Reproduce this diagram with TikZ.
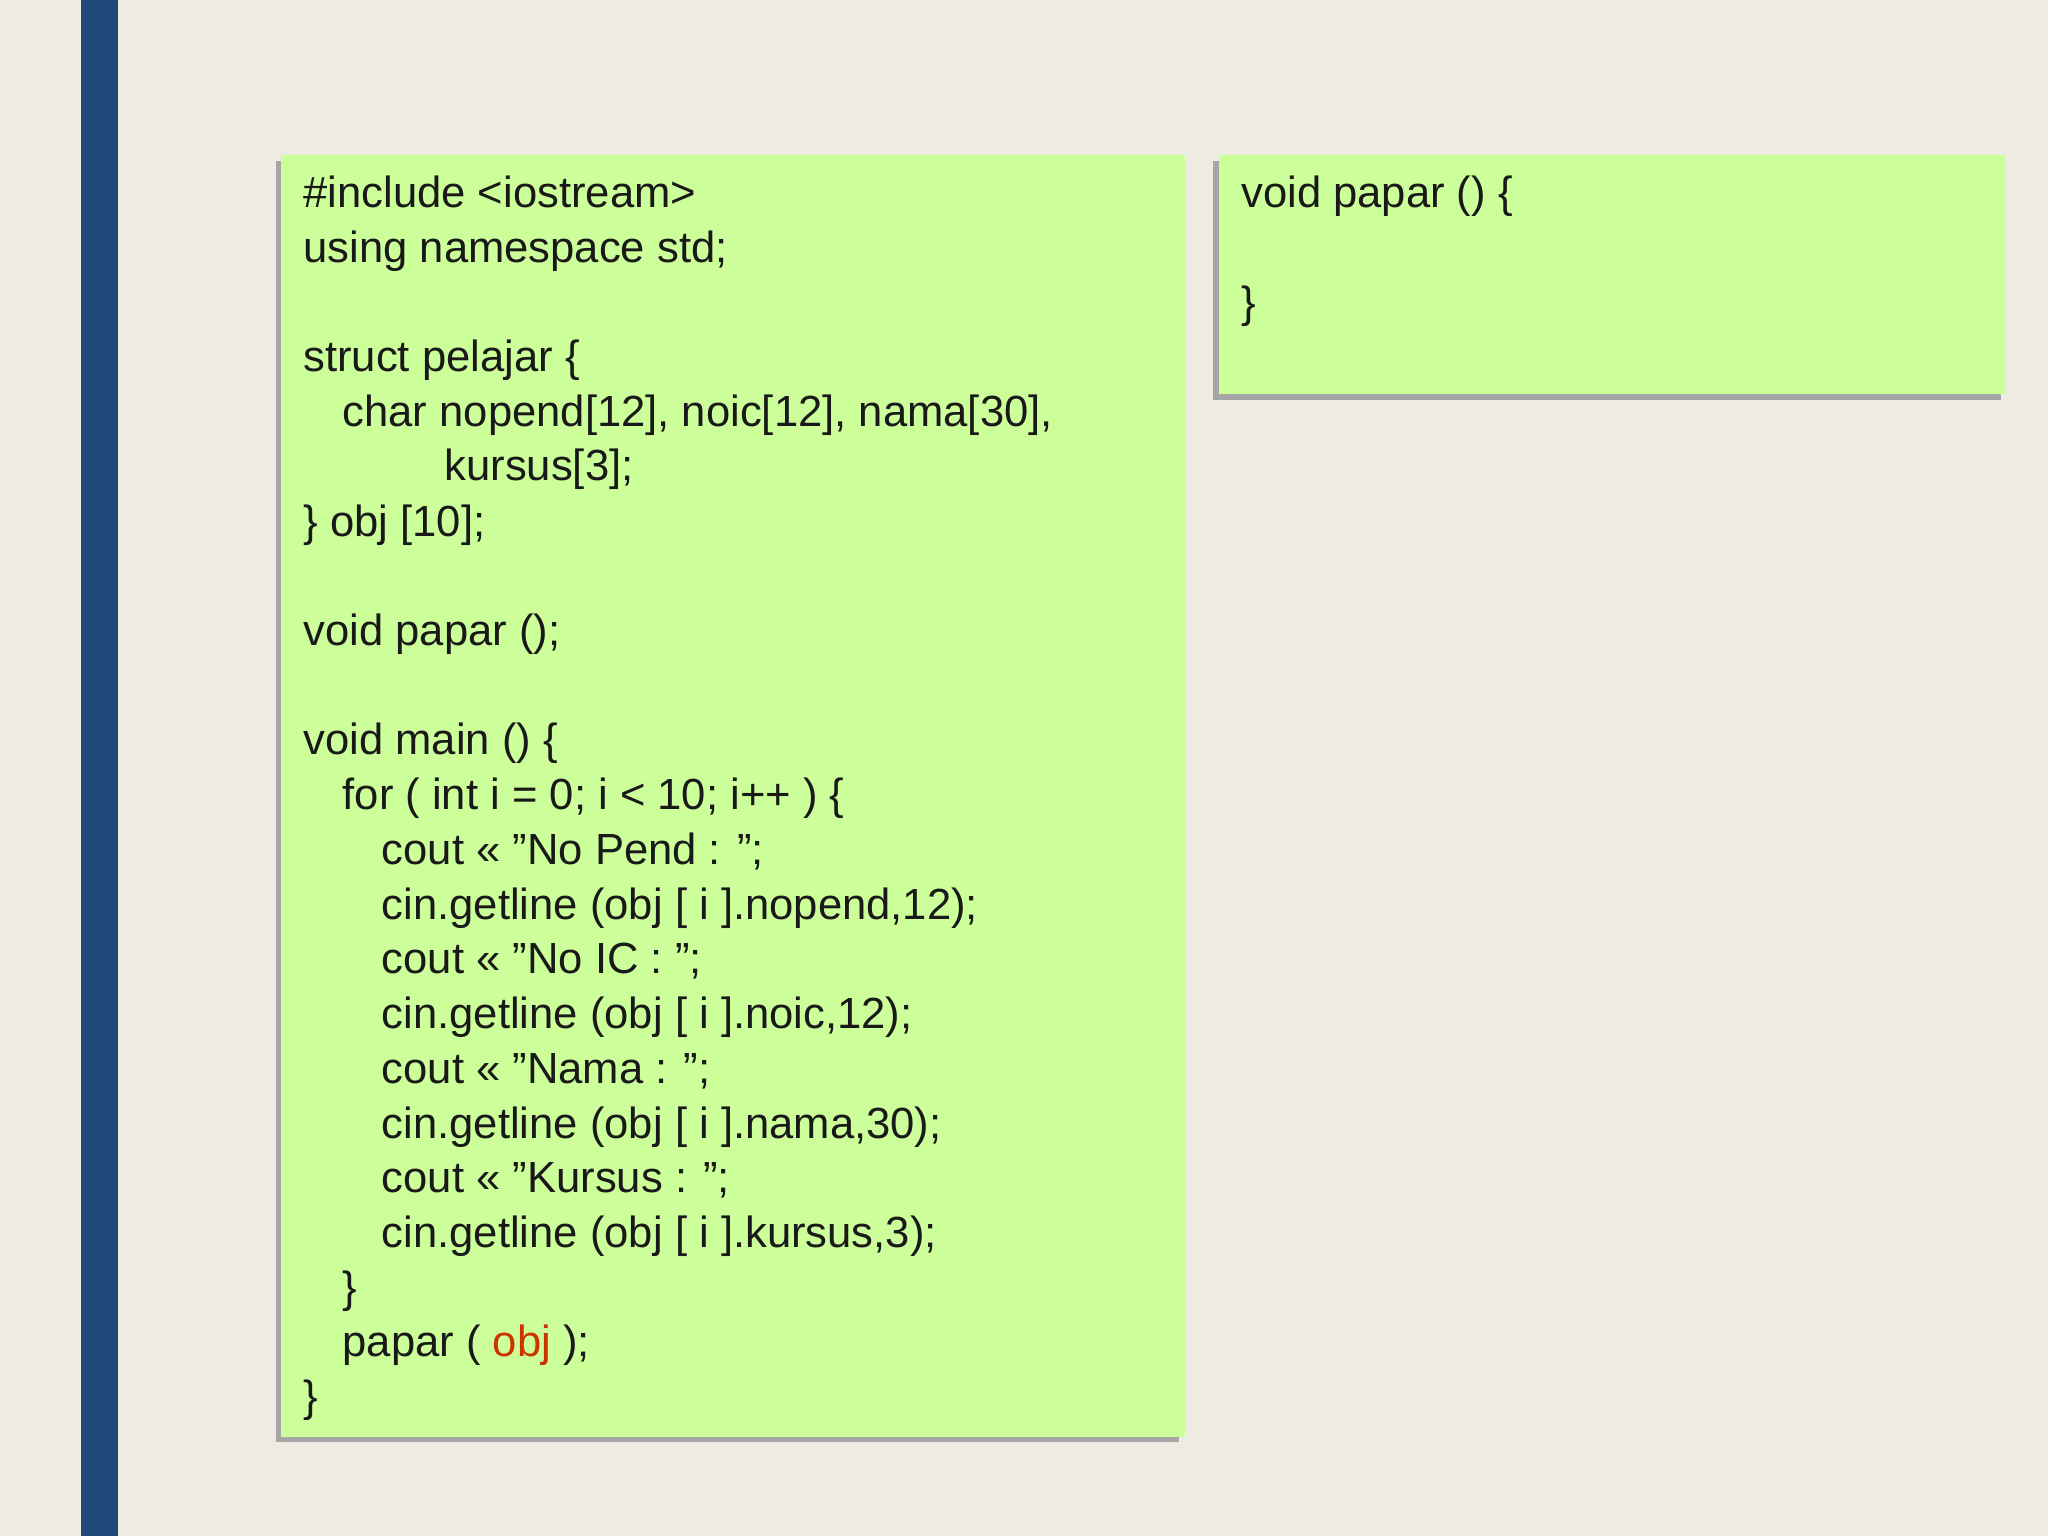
\documentclass[tikz,border=0pt]{standalone}
\usepackage{fontspec}
\setmainfont{Liberation Sans}
\definecolor{bg}{HTML}{EEEBE3}
\definecolor{bar}{HTML}{22487A}
\definecolor{boxg}{HTML}{CCFF99}
\definecolor{objred}{HTML}{CC3300}
\begin{document}
\begin{tikzpicture}[x=0.02cm,y=-0.02cm,
  code/.style={anchor=base west,inner sep=0pt,font=\fontsize{19}{23}\selectfont,text=black!90}]
\fill[bg] (0,0) rectangle (1568,1176);
\useasboundingbox (0,0) rectangle (1568,1176);
\fill[bar] (62,0) rectangle (90,1176);
% left box
\fill[black!35] (211,123) rectangle (903,1104);
\fill[boxg] (215,119) rectangle (907,1100);
% right box
\fill[black!35] (929,123) rectangle (1532,306);
\fill[boxg] (933,119) rectangle (1536,302);
\def\L{232}\def\I{30}
\foreach \k/\ind/\t in {
 0/0/{\#include <iostream>},
 1/0/{using namespace std;},
 3/0/{struct pelajar \{},
 4/1/{char nopend[12], noic[12], nama[30],},
 6/0/{\} obj [10];},
 8/0/{void papar ();},
 10/0/{void main () \{},
 11/1/{for ( int i = 0; i < 10; i++ ) \{},
 12/2/{cout << "No Pend : ";},
 13/2/{cin.getline (obj [ i ].nopend,12);},
 14/2/{cout << "No IC : ";},
 15/2/{cin.getline (obj [ i ].noic,12);},
 16/2/{cout << "Nama : ";},
 17/2/{cin.getline (obj [ i ].nama,30);},
 18/2/{cout << "Kursus : ";},
 19/2/{cin.getline (obj [ i ].kursus,3);},
 20/1/{\}},
 21/1/{papar ( \textcolor{objred}{obj} );},
 22/0/{\}}}
 \node[code] (l\k) at ({\L+\I*\ind},{159+41.9*\k}) {\t};
\node[code] (l5) at (340,{159+41.9*5-1}) {kursus[3];};
\node[code] (r0) at (950,159) {void papar () \{};
\node[code] (r2) at (950,{159+41.9*2}) {\}};
\end{tikzpicture}
\end{document}
